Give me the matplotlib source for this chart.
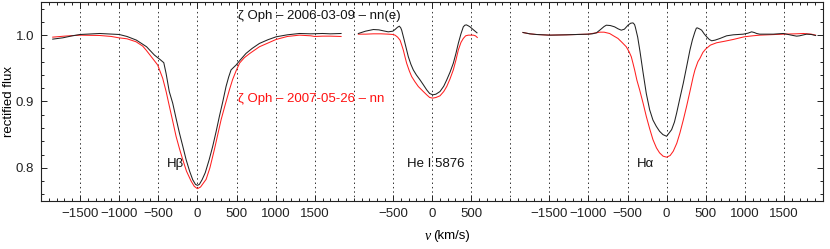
import numpy as np
import matplotlib
matplotlib.use("Agg")
import matplotlib.pyplot as plt
from matplotlib.ticker import MultipleLocator, FixedLocator, FixedFormatter

plt.rcParams['font.family'] = ['Liberation Sans', 'DejaVu Sans']

# ---------------- data (velocity in km/s, rectified flux) ----------------
hb_v_2006 = [-1850, -1720, -1600, -1500, -1250, -1000, -900, -780, -650, -550, -480, -430,
             -400, -360, -316, -270, -230, -188, -145, -100, -60, -25, 0, 25, 60, 100, 150,
             196, 240, 281, 325, 366, 400, 430, 451, 495, 540, 622, 700, 793, 900, 1006,
             1150, 1304, 1450, 1602, 1700, 1837]
hb_f_2006 = [0.994, 0.996, 0.999, 1.001, 1.0025, 1.001, 0.998, 0.9925, 0.9825, 0.970, 0.9635, 0.9585,
             0.942, 0.915, 0.8975, 0.873, 0.8525, 0.833, 0.8125, 0.795, 0.782, 0.775, 0.7735, 0.775, 0.782, 0.7925, 0.812,
             0.8325, 0.855, 0.8775, 0.900, 0.9225, 0.937, 0.9475, 0.950, 0.955, 0.9615, 0.9725, 0.980, 0.9875, 0.993, 0.9975,
             1.0005, 1.0025, 1.002, 1.0025, 1.002, 1.0025]

hb_v_2007 = [-1850, -1700, -1500, -1250, -1100, -1006, -900, -784, -700, -656, -580, -508, -444,
             -400, -358, -315, -273, -230, -188, -140, -81, -40, 0, 40, 111, 160, 217, 260, 303,
             355, 409, 450, 494, 540, 600, 665, 793, 900, 1006, 1150, 1304, 1450, 1500, 1602,
             1700, 1837]
hb_f_2007 = [0.997, 0.9985, 1.000, 0.9995, 0.998, 0.996, 0.9945, 0.990, 0.9835, 0.9775, 0.966, 0.955, 0.935,
             0.915, 0.8925, 0.870, 0.8475, 0.829, 0.8125, 0.795, 0.780, 0.772, 0.7685, 0.771, 0.7825, 0.800, 0.8275, 0.850, 0.8725,
             0.895, 0.9175, 0.933, 0.946, 0.958, 0.966, 0.972, 0.9825, 0.988, 0.9935, 0.998, 1.000, 0.999, 0.998, 0.9985,
             0.9985, 0.998]

he_v_2006 = [-942, -850, -750, -680, -622, -560, -500, -473, -440, -418, -400, -388, -365, -345,
             -303, -270, -239, -200, -153, -110, -68, -30, 9, 50, 102, 150, 188, 230, 272, 305,
             336, 370, 400, 420, 440, 465, 486, 520, 550, 575]
he_f_2006 = [1.0025, 1.006, 1.0085, 1.008, 1.0065, 1.005, 1.006, 1.0085, 1.012, 1.0135, 1.011, 1.0075, 0.997, 0.9875,
             0.9675, 0.956, 0.9475, 0.940, 0.9325, 0.925, 0.9175, 0.912, 0.910, 0.911, 0.915, 0.923, 0.9325, 0.944, 0.9575, 0.972,
             0.9875, 1.002, 1.0125, 1.015, 1.0155, 1.014, 1.0125, 1.009, 1.006, 1.0035]

he_v_2007 = [-942, -850, -750, -650, -560, -500, -473, -440, -409, -390, -367, -345, -324, -290,
             -260, -220, -175, -120, -68, -30, 9, 50, 102, 150, 188, 230, 272, 305, 336, 370,
             400, 430, 464, 528, 555, 579]
he_f_2007 = [1.0015, 1.0015, 1.002, 1.002, 1.0015, 1.001, 1.000, 0.997, 0.9925, 0.986, 0.9775, 0.967, 0.9575, 0.946,
             0.9375, 0.930, 0.9225, 0.916, 0.910, 0.906, 0.905, 0.906, 0.9085, 0.915, 0.9225, 0.934, 0.9475, 0.962, 0.9775, 0.989,
             0.995, 0.999, 1.000, 1.000, 0.999, 0.9965]

ha_v_2006 = [-1837, -1750, -1666, -1496, -1282, -1150, -1005, -950, -898, -850, -800, -771, -720,
             -665, -620, -580, -540, -494, -460, -430, -410, -400, -370, -340, -303, -260, -217,
             -175, -132, -90, -47, 0, 64, 100, 128, 170, 213, 255, 298, 330, 362, 380, 392, 420,
             448, 480, 512, 545, 576, 620, 682, 767, 852, 980, 1040, 1087, 1120, 1151, 1190,
             1364, 1492, 1617, 1662, 1700, 1790, 1850, 1905]
ha_f_2006 = [1.004, 1.002, 1.001, 1.000, 1.0005, 1.001, 1.0015, 1.002, 1.0035, 1.008, 1.013, 1.015, 1.0145,
             1.0125, 1.0095, 1.0075, 1.009, 1.015, 1.018, 1.0185, 1.016, 1.012, 0.997, 0.975, 0.945, 0.912, 0.8875,
             0.872, 0.8625, 0.855, 0.850, 0.8475, 0.8575, 0.869, 0.8825, 0.905, 0.9275, 0.952, 0.9775, 0.993, 1.005, 1.0105, 1.011, 1.0095,
             1.0075, 1.002, 0.9975, 0.9935, 0.9915, 0.9925, 0.995, 0.999, 1.0005, 1.0015, 1.003, 1.005, 1.004, 1.0025, 1.0015,
             1.0015, 1.0025, 0.9995, 0.9985, 0.999, 1.0015, 1.001, 0.9995]

ha_v_2007 = [-1837, -1750, -1666, -1496, -1282, -1005, -900, -857, -800, -729, -680, -622, -570,
             -516, -480, -452, -430, -409, -380, -345, -300, -260, -217, -175, -130, -90, -45, 0,
             45, 85, 130, 170, 213, 255, 298, 340, 362, 400, 426, 464, 499, 560, 639, 750, 852,
             992, 1100, 1190, 1492, 1650, 1748, 1850, 1905]
ha_f_2007 = [1.004, 1.002, 1.001, 1.000, 1.0005, 1.0015, 1.0035, 1.0045, 1.0045, 1.0025, 0.999, 0.995, 0.989,
             0.9825, 0.975, 0.9675, 0.9575, 0.9475, 0.932, 0.9175, 0.897, 0.8775, 0.859, 0.8425, 0.830, 0.8225, 0.8175, 0.816,
             0.8185, 0.825, 0.837, 0.8525, 0.872, 0.8925, 0.915, 0.9375, 0.9475, 0.960, 0.965, 0.974, 0.979, 0.985, 0.9885, 0.991, 0.9935,
             0.9975, 0.999, 1.000, 1.0015, 1.002, 1.0025, 1.0015, 1.000]

panel_labels = ["H\u03b2", "He I 5876", "H\u03b1"]
panel_ticks = [[-1500, -1000, -500, 0, 500, 1000, 1500], [-500, 0, 500],
               [-1500, -1000, -500, 0, 500, 1000, 1500]]
label_2006 = "\u03b6 Oph \u2013 2006-03-09 \u2013 nn(e)"
label_2007 = "\u03b6 Oph \u2013 2007-05-26 \u2013 nn"

# ---------------- layout ----------------
offsets = [-3000, 0, 3000]
fig = plt.figure(figsize=(8.30, 2.49), dpi=100)
ax = fig.add_axes([0.0494, 0.193, 0.9422, 0.799])

series = [(hb_v_2006, hb_f_2006, hb_v_2007, hb_f_2007),
          (he_v_2006, he_f_2006, he_v_2007, he_f_2007),
          (ha_v_2006, ha_f_2006, ha_v_2007, ha_f_2007)]
for off, (v6, f6, v7, f7) in zip(offsets, series):
    ax.plot(np.array(v7) + off, f7, color='#ff2020', lw=0.75)
    ax.plot(np.array(v6) + off, f6, color='#222222', lw=0.75)

for g in np.arange(-4500, 4501, 500):
    ax.axvline(g, color='#333333', lw=0.7, ls=(0, (1.5, 3)), zorder=0)

ax.set_xlim(-5000, 5000)
ax.set_ylim(0.75, 1.05)

tick_pos, tick_lab = [], []
for off, ticks in zip(offsets, panel_ticks):
    for t in ticks:
        tick_pos.append(t + off)
        tick_lab.append("\u2212" + str(-t) if t < 0 else str(t))
ax.xaxis.set_major_locator(FixedLocator(tick_pos))
ax.xaxis.set_major_formatter(FixedFormatter(tick_lab))
ax.xaxis.set_minor_locator(MultipleLocator(100))
ax.yaxis.set_major_locator(FixedLocator([0.8, 0.9, 1.0]))
ax.yaxis.set_major_formatter(FixedFormatter(["0.8", "0.9", "1.0"]))
ax.yaxis.set_minor_locator(MultipleLocator(0.02))
ax.tick_params(which='both', direction='in', top=True, right=True, labelsize=9.5,
               width=0.7, colors='#222222')
ax.tick_params(which='major', length=4, pad=5)
ax.tick_params(which='minor', length=2.5)
for s in ax.spines.values():
    s.set_linewidth(0.8)
    s.set_color('#222222')

ax.set_ylabel("rectified flux", fontsize=9.5)
ax.yaxis.set_label_coords(-0.0335, 0.5)
fig.text(0.5215, 0.052, "(km/s)", fontsize=9.5, ha='left', va='center')
fig.text(0.5190, 0.052, "\u03bd", fontsize=10, ha='right', va='center',
         family=['Liberation Serif', 'DejaVu Serif'], style='italic')

ax.text(-2481, 1.0285, label_2006, fontsize=9.5, color='#111111', ha='left', va='center')
ax.text(-2481, 0.904, label_2007, fontsize=9.5, color='#ff1010', ha='left', va='center')
label_x = [-3286, 50, 2724]
for lx, lab in zip(label_x, panel_labels):
    ax.text(lx, 0.806, lab, fontsize=9.5, ha='center', va='center', color='#111111')

fig.savefig("out.png", dpi=100)
